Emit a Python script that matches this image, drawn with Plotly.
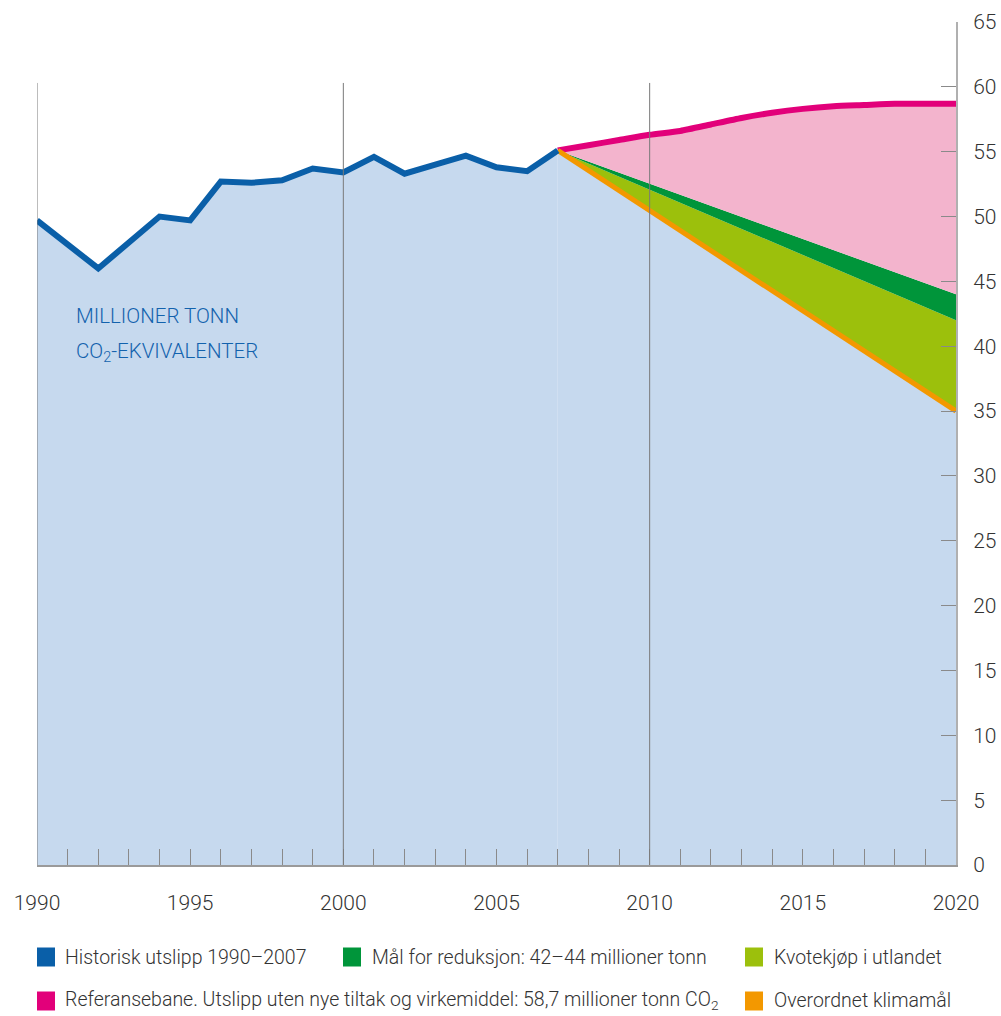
import plotly.graph_objects as go

# ---- data ----
hist_years = list(range(1990, 2008))
hist_values = [49.7, 47.9, 46.0, 48.0, 50.0, 49.7, 52.7, 52.6, 52.8, 53.7,
               53.4, 54.6, 53.3, 54.0, 54.7, 53.8, 53.5, 55.1]

ref_years = list(range(2007, 2021))
ref_values = [55.1, 55.5, 55.9, 56.3, 56.6, 57.1, 57.6, 58.0, 58.3, 58.5,
              58.6, 58.7, 58.7, 58.7]

target_years = [2007, 2020]
goal_values = [55.1, 35.0]       # Overordnet klimamål
low_values = [55.1, 42.0]        # Mål for reduksjon, nedre
high_values = [55.1, 44.0]       # Mål for reduksjon, øvre

x_ticks = [1990, 1995, 2000, 2005, 2010, 2015, 2020]
y_ticks = list(range(0, 70, 5))

legend_items = [
    ("Historisk utslipp 1990–2007", "#0a5fa8", 0),
    ("Mål for reduksjon: 42–44 millioner tonn", "#00953a", 0),
    ("Kvotekjøp i utlandet", "#9cc00c", 0),
    ("Referansebane. Utslipp uten nye tiltak og virkemiddel: 58,7 millioner tonn CO<sub>2</sub>", "#e2007a", 1),
    ("Overordnet klimamål", "#f39800", 1),
]

# ---- colours ----
BLUE_FILL = "#c6d9ee"
BLUE_LINE = "#0a5fa8"
PINK_LINE = "#e2007a"
PINK_FILL = "#f3b4cd"
DGREEN = "#00953a"
LGREEN = "#9cc00c"
ORANGE = "#f39800"
FONT = "Roboto, sans-serif"

W, H = 1001, 1016
L, R, T, B = 37, 45, 22, 151
PW, PH = W - L - R, H - T - B


def px(xp):
    return (xp - L) / PW


def py(yp):
    return (H - B - yp) / PH


fig = go.Figure()

# blue area under history
fig.add_trace(go.Scatter(x=hist_years, y=hist_values, mode="lines", line=dict(width=0),
                         fill="tozeroy", fillcolor=BLUE_FILL, hoverinfo="skip", showlegend=False))
fig.add_trace(go.Scatter(x=target_years, y=goal_values, mode="lines", line=dict(width=0),
                         fill="tozeroy", fillcolor=BLUE_FILL, hoverinfo="skip", showlegend=False))
# light green
fig.add_trace(go.Scatter(x=target_years, y=low_values, mode="lines", line=dict(width=0),
                         fill="tonexty", fillcolor=LGREEN, showlegend=False))
# dark green
fig.add_trace(go.Scatter(x=target_years, y=high_values, mode="lines", line=dict(width=0),
                         fill="tonexty", fillcolor=DGREEN, showlegend=False))
# pink
fig.add_trace(go.Scatter(x=ref_years, y=ref_values, mode="lines",
                         line=dict(width=6, color=PINK_LINE, shape="spline", smoothing=0.6),
                         fill="tonexty", fillcolor=PINK_FILL, showlegend=False))
# orange goal line
fig.add_trace(go.Scatter(x=target_years, y=goal_values, mode="lines",
                         line=dict(width=5, color=ORANGE), showlegend=False))
# history line
fig.add_trace(go.Scatter(x=hist_years, y=hist_values, mode="lines",
                         line=dict(width=6, color=BLUE_LINE), showlegend=False))

shapes = []
for xv in (1990, 2000, 2010):
    shapes.append(dict(type="line", xref="x", yref="y", x0=xv, x1=xv, y0=0, y1=60.3,
                       line=dict(color="#7a7a7a", width=1), layer="above"))

annotations = [
    dict(xref="x", yref="y", x=1991.2, y=yv, text=txt, showarrow=False, xanchor="left",
         yanchor="middle", font=dict(family=FONT, size=20.5, color="#1262ad", weight=300))
    for yv, txt in [(42.3, "MILLIONER TONN"), (39.5, "CO<sub>2</sub>-EKVIVALENTER")]
]

col_sq = [37, 343, 745]
col_tx = [63, 370, 772]
row_y = [957, 1001]
row1_cols = [0, 1, 2]
row2_cols = [0, 2]
for i, (txt, col, row) in enumerate(legend_items):
    c = row1_cols[i] if row == 0 else row2_cols[i - 3]
    yc = row_y[row]
    shapes.append(dict(type="rect", xref="paper", yref="paper",
                       x0=px(col_sq[c]), x1=px(col_sq[c] + 18),
                       y0=py(yc - 9.5), y1=py(yc + 9.5),
                       fillcolor=col, line=dict(width=0)))
    annotations.append(dict(xref="paper", yref="paper", x=px(col_tx[c]), y=py(yc),
                            text=txt, showarrow=False, xanchor="left", yanchor="middle",
                            font=dict(family=FONT, size=19.5, color="#333333", weight=300)))

fig.update_layout(
    width=W, height=H,
    margin=dict(l=L, r=R, t=T, b=B, autoexpand=False),
    plot_bgcolor="white", paper_bgcolor="white",
    font=dict(family=FONT, size=21, color="#333333", weight=300),
    shapes=shapes, annotations=annotations,
    xaxis=dict(range=[1990, 2020], tickvals=x_ticks, ticktext=[str(v) for v in x_ticks],
               ticks="inside", ticklen=16, tickcolor="#8a8a8a", tickwidth=1,
               minor=dict(dtick=1, ticks="inside", ticklen=16, tickcolor="#8a8a8a", tickwidth=1),
               showline=True, linecolor="#9a9a9a", linewidth=2, showgrid=False,
               zeroline=False, ticklabelstandoff=18, automargin=False,
               tickfont=dict(size=21, weight=300)),
    yaxis=dict(range=[0, 65], tickvals=y_ticks, side="right", ticks="inside", ticklen=15,
               tickcolor="#8a8a8a", tickwidth=1, showline=True, linecolor="#b0b0b0",
               linewidth=2, showgrid=False, zeroline=False, ticklabelstandoff=11,
               automargin=False, tickfont=dict(size=21, weight=300)),
)

fig.write_html("out.html", config={"displayModeBar": False},
               post_script="document.body.style.margin='0';document.body.style.overflow='hidden';")
